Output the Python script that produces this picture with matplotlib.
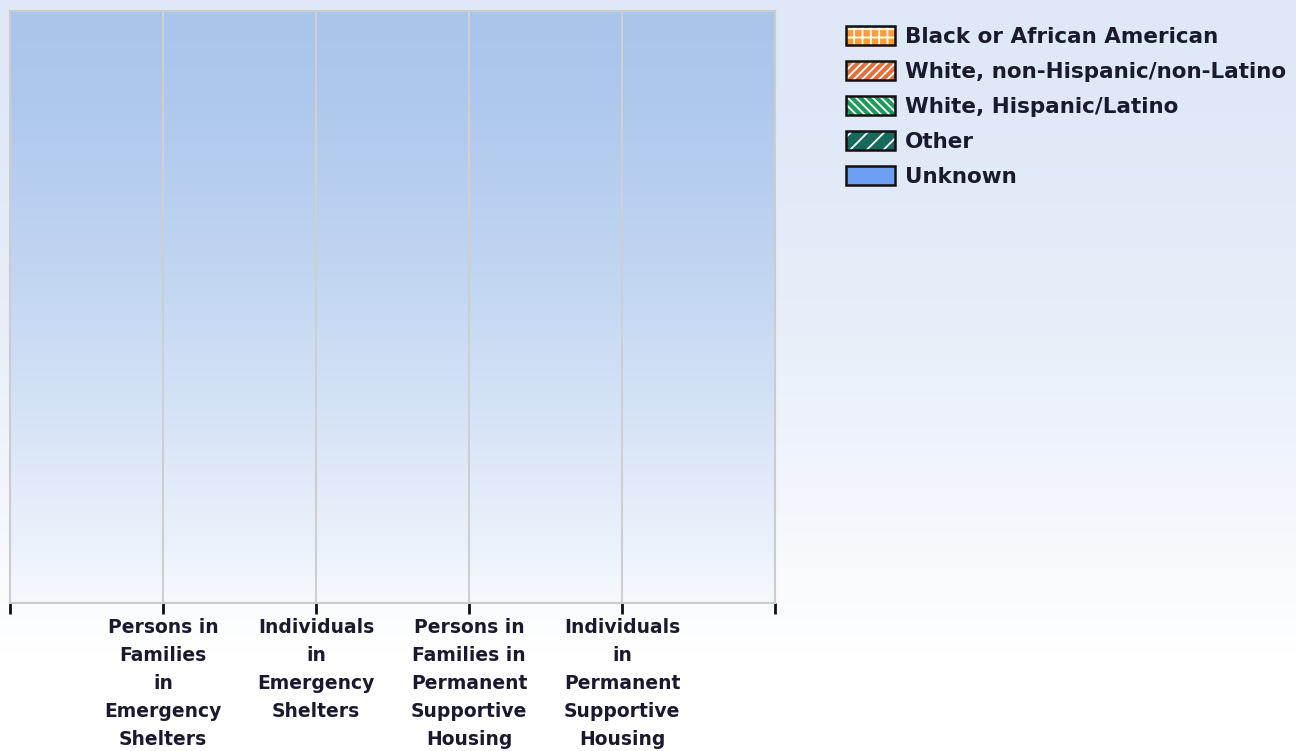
import numpy as np
import matplotlib.pyplot as plt
from matplotlib.patches import Patch
from matplotlib.legend_handler import HandlerTuple

categories = ['Persons in\nFamilies\nin\nEmergency\nShelters',
              'Individuals\nin\nEmergency\nShelters',
              'Persons in\nFamilies in\nPermanent\nSupportive\nHousing',
              'Individuals\nin\nPermanent\nSupportive\nHousing']
series = ['Black or African American', 'White, non-Hispanic/non-Latino',
          'White, Hispanic/Latino', 'Other', 'Unknown']
# no counts reported for any group
values = {
    'Black or African American': [0, 0, 0, 0],
    'White, non-Hispanic/non-Latino': [0, 0, 0, 0],
    'White, Hispanic/Latino': [0, 0, 0, 0],
    'Other': [0, 0, 0, 0],
    'Unknown': [0, 0, 0, 0],
}
colors = ['#ff9c33', '#e0703c', '#1f9a5c', '#17695c', '#6d9ff2']
hatches = ['++', '////', '\\\\\\\\', '//', None]

plt.rcParams['font.family'] = ['DejaVu Sans']
plt.rcParams['hatch.linewidth'] = 1.3

fig = plt.figure(figsize=(12.96, 7.51), dpi=100)

# page background gradient
bg = fig.add_axes([0, 0, 1, 1], zorder=-10)
grad = np.linspace(0, 1, 256).reshape(-1, 1)
top_c = np.array([0.875, 0.910, 0.970])
bot_c = np.array([1.0, 1.0, 1.0])
g = np.clip(grad * 1.15, 0, 1) ** 1.8
img = top_c * (1 - g[..., None]) + bot_c * g[..., None]
bg.imshow(img, aspect='auto', extent=[0, 1, 0, 1], origin='upper')
bg.set_axis_off()

ax = fig.add_axes([10 / 1296, (751 - 603) / 751, 765 / 1296, 592 / 751])
ax.set_xlim(0, 5)
ax.set_ylim(0, 1)

# plot area gradient
ptop = np.array([0.663, 0.773, 0.925])
pbot = np.array([0.965, 0.976, 0.995])
pg = grad ** 1.4
pimg = ptop * (1 - pg[..., None]) + pbot * pg[..., None]
ax.imshow(pimg, aspect='auto', extent=[0, 5, 0, 1], origin='upper', zorder=0)

x = np.arange(1, len(categories) + 1)
bottom = np.zeros(len(categories))
handles = []
for name, c, h in zip(series, colors, hatches):
    v = np.array(values[name], dtype=float)
    ax.bar(x, v, bottom=bottom, width=0.6, color=c, hatch=h,
           edgecolor='white', linewidth=0, zorder=3)
    bottom += v
    fill = Patch(facecolor=c, hatch=h, edgecolor='white', linewidth=0)
    frame = Patch(facecolor='none', edgecolor='#111111', linewidth=1.8)
    handles.append((fill, frame))

for xi in x:
    ax.axvline(xi, color='#cfcfcf', linewidth=1.5, zorder=2)

for s in ax.spines.values():
    s.set_color('#cccccc')
    s.set_linewidth(1.5)

ax.set_xticks([0, 1, 2, 3, 4, 5])
ax.set_xticklabels([''] + categories + [''], fontsize=13.5,
                   fontweight='semibold', color='#1a1a2e', linespacing=1.6)
ax.tick_params(axis='x', length=8, width=2, color='#111111', pad=3)
ax.set_yticks([])

leg = fig.legend(handles, series, handler_map={tuple: HandlerTuple(ndivide=1)},
                 loc='upper left', bbox_to_anchor=(846 / 1296, 1 - 26 / 751),
                 frameon=False, fontsize=15.5, handlelength=2.28, handleheight=0.98,
                 labelspacing=0.66, handletextpad=0.45, borderaxespad=0,
                 borderpad=0)
for t in leg.get_texts():
    t.set_fontweight('semibold')
    t.set_color('#1a1a2e')

fig.savefig('out.png', dpi=100)
